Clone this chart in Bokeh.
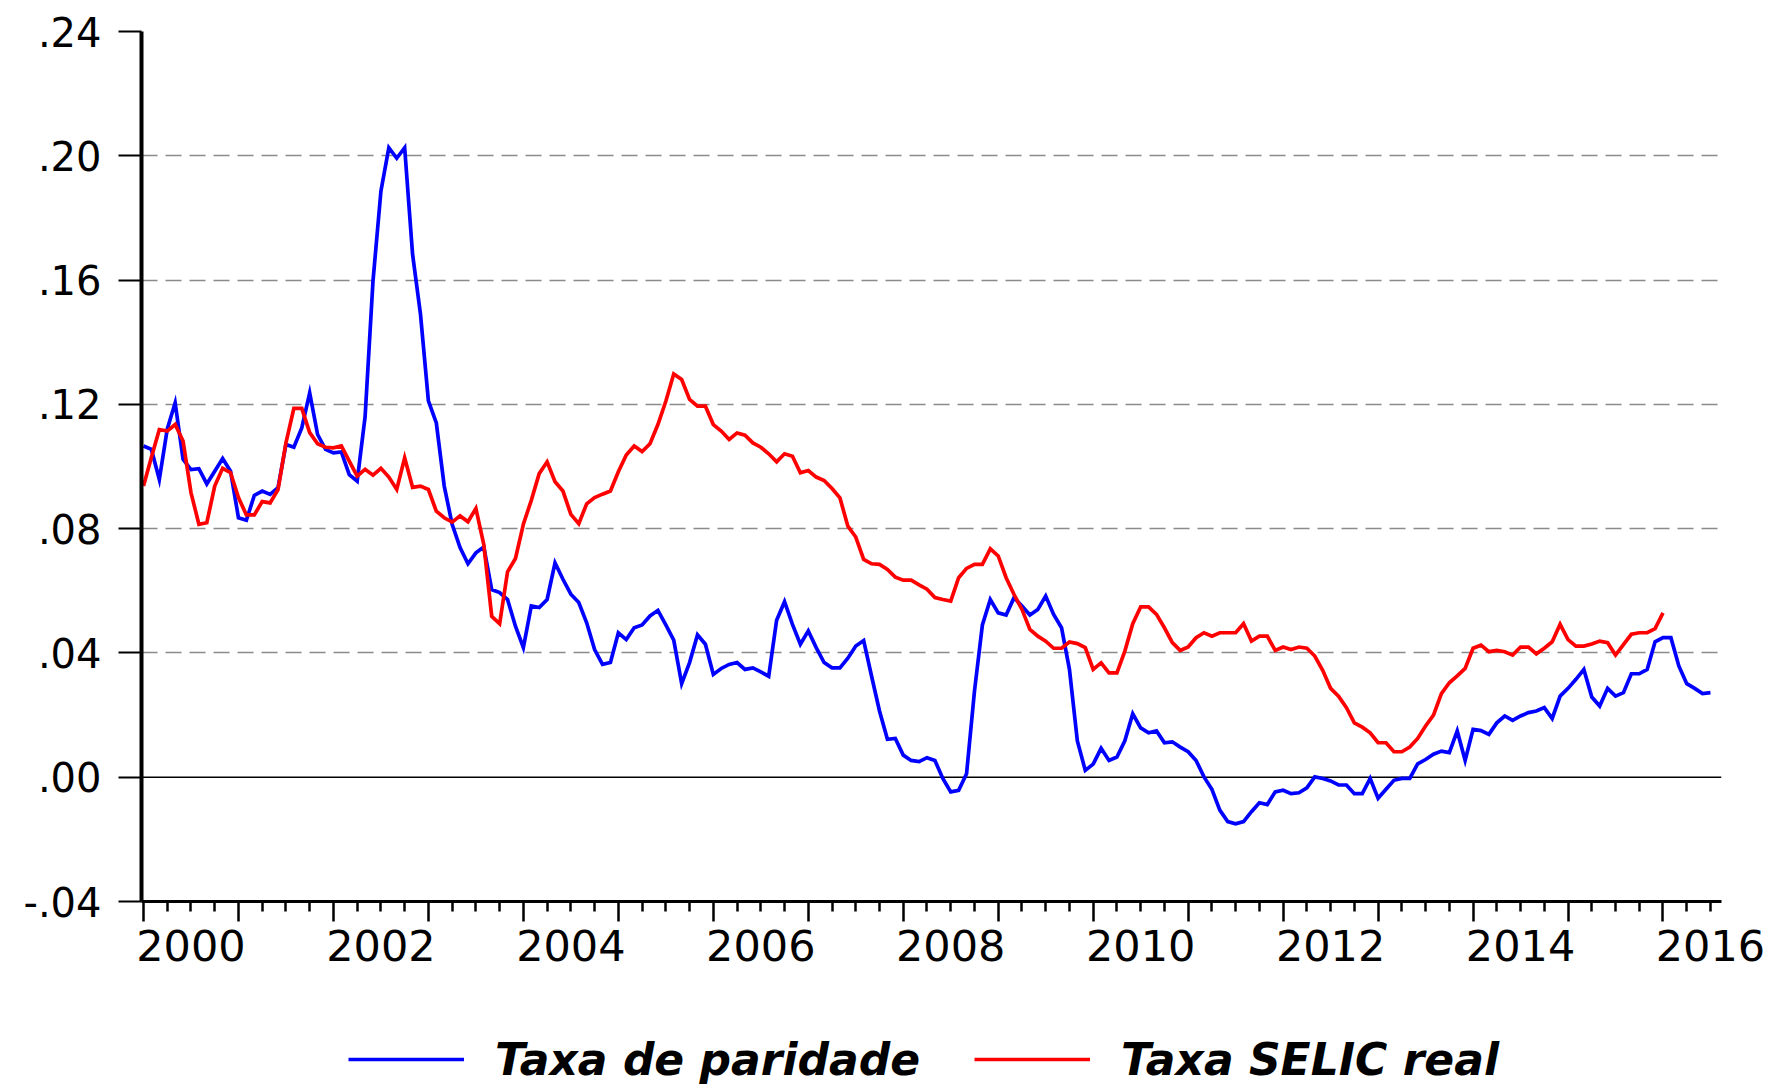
from bokeh.plotting import figure
from bokeh.layouts import column
from bokeh.models import (Range1d, LinearAxis, FixedTicker, Span, Legend, LegendItem,
                          CustomJSTickFormatter)
from bokeh.embed import file_html
from bokeh.resources import INLINE

# ---------------- data (monthly, starting 2000M1) ----------------
start_year = 2000

paridade = [
    0.1066, 0.1055, 0.0958, 0.1120, 0.1205, 0.1023, 0.0990, 0.0993, 0.0944, 0.0985,
    0.1026, 0.0985, 0.0835, 0.0827, 0.0907, 0.0921, 0.0910, 0.0932, 0.1071, 0.1062,
    0.1124, 0.1237, 0.1103, 0.1055, 0.1044, 0.1047, 0.0974, 0.0953, 0.1160, 0.1597,
    0.1886, 0.2026, 0.1992, 0.2026, 0.1683, 0.1490, 0.1211, 0.1140, 0.0937, 0.0814,
    0.0739, 0.0687, 0.0722, 0.0741, 0.0604, 0.0594, 0.0572, 0.0486, 0.0417, 0.0551,
    0.0546, 0.0572, 0.0690, 0.0637, 0.0589, 0.0562, 0.0497, 0.0411, 0.0363, 0.0369,
    0.0465, 0.0443, 0.0481, 0.0490, 0.0519, 0.0537, 0.0490, 0.0441, 0.0301, 0.0369,
    0.0458, 0.0428, 0.0331, 0.0350, 0.0363, 0.0369, 0.0347, 0.0352, 0.0339, 0.0325,
    0.0505, 0.0565, 0.0492, 0.0428, 0.0471, 0.0417, 0.0369, 0.0352, 0.0352, 0.0383,
    0.0422, 0.0440, 0.0325, 0.0213, 0.0122, 0.0125, 0.0071, 0.0054, 0.0050, 0.0063,
    0.0054, -0.0004, -0.0047, -0.0042, 0.0011, 0.0277, 0.0490, 0.0572, 0.0529, 0.0522,
    0.0578, 0.0551, 0.0522, 0.0540, 0.0583, 0.0524, 0.0481, 0.0347, 0.0117, 0.0022,
    0.0042, 0.0093, 0.0054, 0.0065, 0.0117, 0.0204, 0.0159, 0.0143, 0.0149, 0.0111,
    0.0114, 0.0097, 0.0082, 0.0054, 0.0001, -0.0039, -0.0106, -0.0143, -0.0150, -0.0143,
    -0.0111, -0.0082, -0.0088, -0.0047, -0.0042, -0.0053, -0.0050, -0.0034, 0.0001, -0.0004,
    -0.0012, -0.0025, -0.0025, -0.0053, -0.0053, -0.0004, -0.0068, -0.0039, -0.0010, -0.0004,
    -0.0004, 0.0043, 0.0057, 0.0074, 0.0084, 0.0079, 0.0149, 0.0054, 0.0154, 0.0150,
    0.0138, 0.0175, 0.0197, 0.0183, 0.0197, 0.0208, 0.0213, 0.0224, 0.0189, 0.0261,
    0.0286, 0.0315, 0.0347, 0.0258, 0.0229, 0.0286, 0.0261, 0.0272, 0.0333, 0.0333,
    0.0347, 0.0436, 0.0449, 0.0449, 0.0358, 0.0301, 0.0286, 0.0269, 0.0272,
]

selic_real = [
    0.0937, 0.1030, 0.1119, 0.1114, 0.1135, 0.1082, 0.0916, 0.0814, 0.0819, 0.0937,
    0.0994, 0.0980, 0.0900, 0.0844, 0.0844, 0.0887, 0.0883, 0.0926, 0.1076, 0.1187,
    0.1187, 0.1109, 0.1073, 0.1062, 0.1060, 0.1066, 0.1017, 0.0969, 0.0991, 0.0972,
    0.0994, 0.0966, 0.0926, 0.1028, 0.0933, 0.0937, 0.0926, 0.0856, 0.0835, 0.0821,
    0.0841, 0.0822, 0.0865, 0.0749, 0.0518, 0.0494, 0.0661, 0.0704, 0.0814, 0.0891,
    0.0977, 0.1015, 0.0951, 0.0921, 0.0846, 0.0816, 0.0880, 0.0900, 0.0911, 0.0921,
    0.0983, 0.1037, 0.1066, 0.1048, 0.1073, 0.1135, 0.1210, 0.1298, 0.1280, 0.1216,
    0.1194, 0.1194, 0.1135, 0.1114, 0.1087, 0.1108, 0.1101, 0.1076, 0.1062, 0.1041,
    0.1015, 0.1041, 0.1033, 0.0980, 0.0987, 0.0966, 0.0955, 0.0929, 0.0899, 0.0808,
    0.0773, 0.0701, 0.0687, 0.0685, 0.0669, 0.0644, 0.0634, 0.0634, 0.0619, 0.0605,
    0.0578, 0.0572, 0.0567, 0.0642, 0.0672, 0.0685, 0.0685, 0.0735, 0.0712, 0.0642,
    0.0588, 0.0540, 0.0476, 0.0454, 0.0438, 0.0415, 0.0415, 0.0435, 0.0430, 0.0417,
    0.0347, 0.0368, 0.0336, 0.0336, 0.0406, 0.0494, 0.0548, 0.0548, 0.0524, 0.0481,
    0.0433, 0.0408, 0.0419, 0.0449, 0.0465, 0.0454, 0.0465, 0.0465, 0.0465, 0.0494,
    0.0438, 0.0454, 0.0454, 0.0408, 0.0419, 0.0411, 0.0419, 0.0415, 0.0390, 0.0344,
    0.0286, 0.0261, 0.0224, 0.0175, 0.0161, 0.0143, 0.0111, 0.0111, 0.0082, 0.0082,
    0.0097, 0.0125, 0.0165, 0.0200, 0.0269, 0.0304, 0.0326, 0.0350, 0.0415, 0.0425,
    0.0404, 0.0408, 0.0404, 0.0393, 0.0419, 0.0419, 0.0397, 0.0415, 0.0436, 0.0492,
    0.0443, 0.0422, 0.0422, 0.0429, 0.0438, 0.0433, 0.0393, 0.0427, 0.0460, 0.0465,
    0.0465, 0.0478, 0.0529,
]

series_labels = ["Taxa de paridade", "Taxa SELIC real"]
series_colors = ["#0000FF", "#FF0000"]
y_ticks = [-0.04, 0.00, 0.04, 0.08, 0.12, 0.16, 0.20, 0.24]
grid_ticks = [0.04, 0.08, 0.12, 0.16, 0.20]
year_ticks = list(range(2000, 2017))
year_labels = list(range(2000, 2017, 2))

# ---------------- geometry ----------------
X_START, X_END = 1999.979, 2016.616
Y_START, Y_END = -0.04, 0.24
FONT = "DejaVu Sans"
LINE_W = 3.7
FRAME_LEFT = 141

x_par = [start_year + i / 12 for i in range(len(paridade))]
x_sel = [start_year + i / 12 for i in range(len(selic_real))]

p = figure(width=1776, height=1032, output_backend="svg", toolbar_location=None,
           x_range=Range1d(X_START, X_END), y_range=Range1d(Y_START, Y_END),
           min_border_left=FRAME_LEFT, min_border_right=55, min_border_top=31,
           min_border_bottom=131)
p.outline_line_color = None
p.background_fill_color = "white"
p.border_fill_color = "white"

# y axis
ya = p.yaxis[0]
ya.ticker = FixedTicker(ticks=y_ticks, minor_ticks=[])
ya.formatter = CustomJSTickFormatter(code="return tick.toFixed(2).replace('0.', '.');")
ya.axis_line_width = 4
ya.axis_line_color = "black"
ya.major_tick_out = 23
ya.major_tick_in = 0
ya.major_tick_line_width = 2
ya.minor_tick_out = 0
ya.minor_tick_in = 0
ya.major_label_standoff = 17
ya.major_label_text_font = FONT
ya.major_label_text_font_size = "40px"
ya.major_label_text_color = "black"

# x axis (tick marks only)
quarters = [y + q / 4 for y in range(2000, 2017) for q in (1, 2, 3) if y + q / 4 <= 2016.5]
xa = p.xaxis[0]
xa.ticker = FixedTicker(ticks=year_ticks, minor_ticks=quarters)
xa.axis_line_width = 3
xa.axis_line_color = "black"
xa.major_tick_out = 20
xa.major_tick_in = 0
xa.minor_tick_out = 10
xa.minor_tick_in = 0
xa.major_tick_line_width = 2.5
xa.minor_tick_line_width = 2.5
xa.major_label_text_font_size = "0px"
xa.major_label_text_alpha = 0
xa.major_label_text_color = None
xa.major_label_standoff = 0

# x axis labels, centred on mid-year
p.extra_x_ranges = {"yearmid": Range1d(X_START - 0.5, X_END - 0.5)}
la = LinearAxis(x_range_name="yearmid", ticker=FixedTicker(ticks=year_labels, minor_ticks=[]))
la.axis_line_color = None
la.major_tick_line_color = None
la.minor_tick_line_color = None
la.major_tick_out = 0
la.major_tick_in = 0
la.minor_tick_out = 0
la.minor_tick_in = 0
la.major_label_standoff = 8
la.major_label_text_font = FONT
la.major_label_text_font_size = "43px"
la.major_label_text_color = "black"
p.add_layout(la, "below")

# grid
p.xgrid.visible = False
p.ygrid.ticker = FixedTicker(ticks=grid_ticks, minor_ticks=[])
p.ygrid.grid_line_color = "#8a8a8a"
p.ygrid.grid_line_width = 1.5
p.ygrid.grid_line_dash = "16 8"

zero = Span(location=0, dimension="width", line_color="black", line_width=1.5, level="underlay")
p.add_layout(zero)

p.line(x_par, paridade, line_color=series_colors[0], line_width=LINE_W, line_join="miter")
p.line(x_sel, selic_real, line_color=series_colors[1], line_width=LINE_W, line_join="miter")

# ---------------- legend strip below the chart ----------------
# same series, drawn outside this strip's visible y-range: only their legend keys show
lg = figure(width=1776, height=54, output_backend="svg", toolbar_location=None,
            x_range=Range1d(X_START, X_END), y_range=Range1d(1, 2), min_border=0,
            x_axis_location=None, y_axis_location=None)
lg.outline_line_color = None
lg.grid.visible = False
lg.background_fill_color = "white"
lg.border_fill_color = "white"
k_par = lg.line(x_par, paridade, line_color=series_colors[0], line_width=LINE_W)
k_sel = lg.line(x_sel, selic_real, line_color=series_colors[1], line_width=LINE_W)

legend = Legend(items=[LegendItem(label=series_labels[0], renderers=[k_par]),
                       LegendItem(label=series_labels[1], renderers=[k_sel])],
                orientation="horizontal", location=(348 - FRAME_LEFT, 0),
                glyph_width=116, glyph_height=54, label_height=54,
                label_standoff=31, spacing=54,
                padding=0, margin=0, border_line_color=None, background_fill_alpha=0,
                label_text_font=FONT, label_text_font_style="bold italic",
                label_text_font_size="44px", label_text_color="black")
lg.add_layout(legend, "center")

layout = column(p, lg, spacing=0)
open("out.html", "w").write(file_html(layout, INLINE))
